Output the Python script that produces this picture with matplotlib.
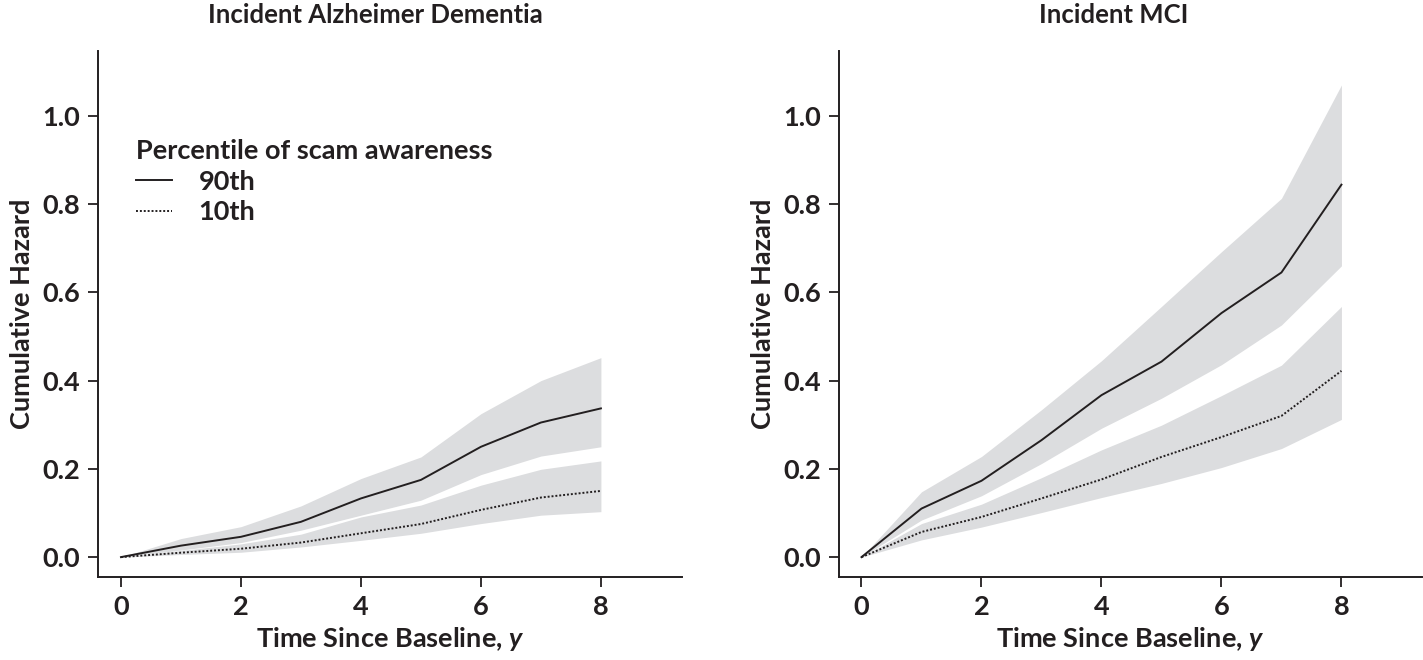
import matplotlib
matplotlib.use('Agg')
import matplotlib.pyplot as plt

# Datos (tiempo en anos)
years = [0, 1, 2, 3, 4, 5, 6, 7, 8]

# Demencia de Alzheimer
ad_p90 = [0, 0.026, 0.046, 0.080, 0.133, 0.175, 0.250, 0.305, 0.337]
ad_p90_lo = [0, 0.016, 0.033, 0.061, 0.095, 0.129, 0.187, 0.229, 0.250]
ad_p90_hi = [0, 0.042, 0.069, 0.116, 0.178, 0.227, 0.325, 0.400, 0.452]
ad_p10 = [0, 0.010, 0.019, 0.033, 0.054, 0.075, 0.107, 0.135, 0.150]
ad_p10_lo = [0, 0.006, 0.011, 0.023, 0.038, 0.054, 0.076, 0.095, 0.103]
ad_p10_hi = [0, 0.015, 0.030, 0.052, 0.091, 0.118, 0.163, 0.199, 0.218]

# Deterioro cognitivo leve (MCI)
mci_p90 = [0, 0.110, 0.173, 0.265, 0.367, 0.443, 0.553, 0.645, 0.844]
mci_p90_lo = [0, 0.084, 0.139, 0.212, 0.292, 0.360, 0.436, 0.526, 0.660]
mci_p90_hi = [0, 0.148, 0.228, 0.334, 0.445, 0.568, 0.692, 0.813, 1.070]
mci_p10 = [0, 0.057, 0.091, 0.133, 0.176, 0.227, 0.272, 0.320, 0.422]
mci_p10_lo = [0, 0.039, 0.068, 0.101, 0.135, 0.167, 0.203, 0.246, 0.312]
mci_p10_hi = [0, 0.076, 0.120, 0.180, 0.243, 0.299, 0.366, 0.435, 0.568]

titles = ['Incident Alzheimer Dementia', 'Incident MCI']
legend_title = 'Percentile of scam awareness'
labels = ['90th', '10th']
x_ticks = [0, 2, 4, 6, 8]
y_ticks = [0.0, 0.2, 0.4, 0.6, 0.8, 1.0]

plt.rcParams['font.family'] = ['Lato', 'DejaVu Sans']
plt.rcParams['font.weight'] = 'bold'
plt.rcParams['axes.labelweight'] = 'bold'
plt.rcParams['axes.titleweight'] = 'bold'
plt.rcParams['mathtext.fontset'] = 'custom'
plt.rcParams['mathtext.it'] = 'Lato:italic:bold'

band = '#dcdddf'
ink = '#231f20'
fs = 19.5

fig = plt.figure(figsize=(14.23, 6.6), dpi=100)
ax1 = fig.add_axes([0.0692, 0.1258, 0.410, 0.797])
ax2 = fig.add_axes([0.5896, 0.1258, 0.410, 0.797])

panels = [
    (ax1, ad_p90, ad_p90_lo, ad_p90_hi, ad_p10, ad_p10_lo, ad_p10_hi),
    (ax2, mci_p90, mci_p90_lo, mci_p90_hi, mci_p10, mci_p10_lo, mci_p10_hi),
]
title_x = [0.475, 0.47]                                               # Centro del titulo (fraccion del eje)

for i, (ax, p90, p90lo, p90hi, p10, p10lo, p10hi) in enumerate(panels):
    ax.fill_between(years, p90lo, p90hi, color=band, lw=0)           # Banda de confianza
    ax.fill_between(years, p10lo, p10hi, color=band, lw=0)
    ax.plot(years, p90, color=ink, lw=1.4, label=labels[0])
    ax.plot(years, p10, color=ink, lw=1.4, ls=(0, (1, 1)), label=labels[1])

    ax.set_xlim(-0.375, 9.35)
    ax.set_ylim(-0.045, 1.147)
    ax.set_xticks(x_ticks)
    ax.set_yticks(y_ticks)
    ax.set_yticklabels(['%.1f' % v for v in y_ticks])
    ax.tick_params(labelsize=fs, length=7, width=1.3, color=ink, labelcolor=ink, pad=6)
    for s in ['top', 'right']:
        ax.spines[s].set_visible(False)
    for s in ['left', 'bottom']:
        ax.spines[s].set_linewidth(1.4)
        ax.spines[s].set_color(ink)

    ax.set_xlabel('Time Since Baseline, $\\it{y}$', fontsize=fs, color=ink, labelpad=4)
    ax.set_ylabel('Cumulative Hazard', fontsize=fs, color=ink, labelpad=6)
    ax.set_title(titles[i], fontsize=18.5, color=ink, pad=20, x=title_x[i])

leg = ax1.legend(loc='upper left', bbox_to_anchor=(0.065, 0.833), frameon=False,
                 title=legend_title, title_fontsize=fs, fontsize=fs,
                 alignment='left', handlelength=1.3, handletextpad=1.0,
                 labelspacing=0.25, borderpad=0, borderaxespad=0)
for t in leg.get_texts():
    t.set_color(ink)
leg.get_title().set_color(ink)

fig.savefig('out.png', dpi=100)
